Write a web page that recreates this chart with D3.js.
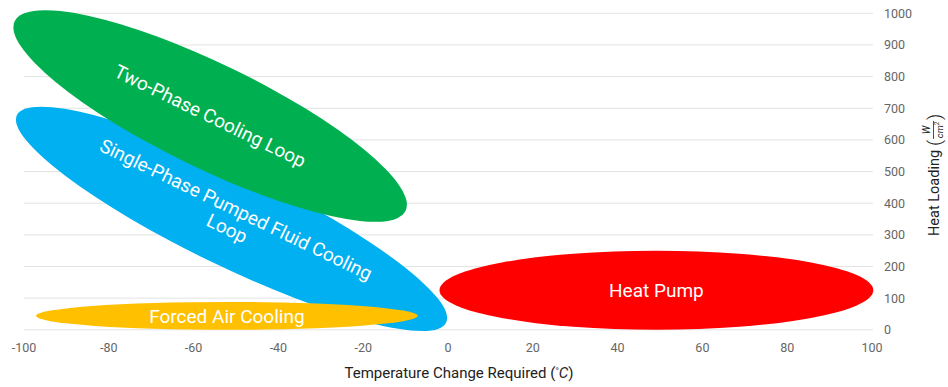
<!DOCTYPE html>
<html>
<head>
<meta charset="utf-8">
<script src="https://cdn.jsdelivr.net/npm/d3@7"></script>
<style>
  html, body { margin: 0; padding: 0; background: #fff; }
  svg { display: block; font-family: Roboto, "Noto Sans", sans-serif; }
</style>
</head>
<body>
<svg id="chart" width="948" height="387"></svg>
<script>
// ---- data ----
const regionNames = ["Single-Phase Pumped Fluid Cooling Loop", "Two-Phase Cooling Loop", "Forced Air Cooling", "Heat Pump"];
const regionLabelLines = [["Single-Phase Pumped Fluid Cooling", "Loop"], ["Two-Phase Cooling Loop"], ["Forced Air Cooling"], ["Heat Pump"]];
// extents of each region: temperature change (°C) and heat loading (W/cm²)
const tempMin = [-101.9, -102.5, -97.2, -2];
const tempMax = [-0.2, -9.7, -7.1, 100.3];
const loadMin = [-4, 341, 0, 0];
const loadMax = [705, 1010, 88, 250];
// temperature at which each region reaches its highest heat loading
const tempAtPeak = [-96, -95, -52.15, 49.15];
const regionColors = ["#00B0F0", "#00B050", "#FFC000", "#FF0000"];
const xTicks = [-100, -80, -60, -40, -20, 0, 20, 40, 60, 80, 100];
const yTicks = [0, 100, 200, 300, 400, 500, 600, 700, 800, 900, 1000];

// ---- chart ----
const svg = d3.select("#chart");
const x = d3.scaleLinear().domain([-100, 100]).range([24, 872]);
const y = d3.scaleLinear().domain([0, 1000]).range([329.8, 13.3]);

// gridlines
svg.append("g").selectAll("line").data(yTicks).join("line")
  .attr("x1", x(-100)).attr("x2", x(100) + 1)
  .attr("y1", d => y(d)).attr("y2", d => y(d))
  .attr("stroke", "#e3e3e3").attr("stroke-width", 1);

// y tick labels (right)
svg.append("g").selectAll("text").data(yTicks).join("text")
  .attr("x", 884).attr("y", d => y(d)).attr("dy", "0.36em")
  .attr("font-size", 12.5).attr("fill", "#666")
  .text(d => d);

// x tick labels
svg.append("g").selectAll("text").data(xTicks).join("text")
  .attr("x", d => x(d)).attr("y", 351.5)
  .attr("text-anchor", "middle")
  .attr("font-size", 12.5).attr("fill", "#666")
  .text(d => d);

// region geometry
const regions = regionNames.map((name, i) => {
  const px0 = x(tempMin[i]), px1 = x(tempMax[i]);
  const py0 = y(loadMax[i]), py1 = y(loadMin[i]);
  const cx = (px0 + px1) / 2, cy = (py0 + py1) / 2;
  const X = (px1 - px0) / 2, Y = (py1 - py0) / 2;
  const dx = x(tempAtPeak[i]) - cx;
  const S = X * X + Y * Y;
  const Dc = X * X - Y * Y;
  const Ds = 2 * (-dx * Y);
  const diff = Math.hypot(Dc, Ds);
  const theta = Math.atan2(Ds, Dc) / 2;
  const a = Math.sqrt((S + diff) / 2);
  const b = Math.sqrt(Math.max(0, (S - diff) / 2));
  return { name, i, cx, cy, a, b, deg: theta * 180 / Math.PI, color: regionColors[i], lines: regionLabelLines[i] };
});

svg.append("g").selectAll("ellipse").data(regions).join("ellipse")
  .attr("cx", 0).attr("cy", 0)
  .attr("rx", d => d.a).attr("ry", d => d.b)
  .attr("transform", d => `translate(${d.cx},${d.cy}) rotate(${d.deg})`)
  .attr("fill", d => d.color);

const labels = svg.append("g").selectAll("text").data(regions).join("text")
  .attr("transform", d => `translate(${d.cx},${d.cy}) rotate(${d.deg})`)
  .attr("text-anchor", "middle")
  .attr("font-size", 19).attr("fill", "#fff");
labels.each(function(d) {
  const n = d.lines.length;
  const lh = 21;
  d3.select(this).selectAll("tspan").data(d.lines).join("tspan")
    .attr("x", 0)
    .attr("y", (l, j) => (j - (n - 1) / 2) * lh)
    .attr("dy", "0.35em")
    .text(l => l);
});

// x axis title
const xt = svg.append("text")
  .attr("x", 459).attr("y", 378)
  .attr("text-anchor", "middle")
  .attr("font-size", 15).attr("fill", "#222");
xt.append("tspan").text("Temperature Change Required (");
xt.append("tspan").attr("font-size", 9).attr("dy", -4).text("°");
xt.append("tspan").attr("font-style", "italic").attr("dy", 4).text("C");
xt.append("tspan").text(")");

// y axis title (rotated)
const yt = svg.append("g").attr("transform", "translate(939,236) rotate(-90)");
const hl = yt.append("text").attr("x", 0).attr("y", 0)
  .attr("font-size", 14.5).attr("fill", "#222")
  .text("Heat Loading");
const w = hl.node().getComputedTextLength();
const p0 = w + 4;
yt.append("text").attr("x", p0).attr("y", 2)
  .attr("font-size", 19).attr("font-weight", 300).attr("fill", "#222").text("(");
const fc = p0 + 16;
yt.append("text").attr("x", fc).attr("y", -9)
  .attr("text-anchor", "middle").attr("font-size", 10).attr("font-style", "italic").attr("fill", "#222").text("W");
yt.append("line").attr("x1", fc - 9).attr("x2", fc + 9).attr("y1", -5.5).attr("y2", -5.5)
  .attr("stroke", "#222").attr("stroke-width", 0.8);
const den = yt.append("text").attr("x", fc).attr("y", 3.5)
  .attr("text-anchor", "middle").attr("font-size", 9.5).attr("font-style", "italic").attr("fill", "#222");
den.append("tspan").text("cm");
den.append("tspan").attr("font-size", 6.5).attr("dy", -4).text("2");
yt.append("text").attr("x", fc + 10).attr("y", 2)
  .attr("font-size", 19).attr("font-weight", 300).attr("fill", "#222").text(")");
</script>
</body>
</html>
